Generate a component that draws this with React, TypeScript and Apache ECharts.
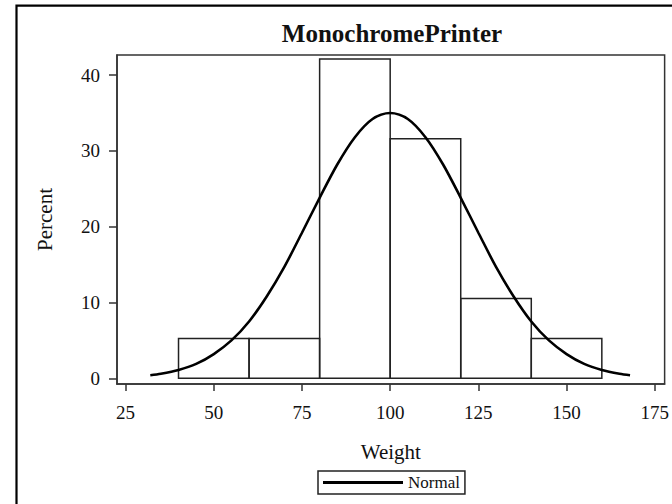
import React, { useEffect, useRef } from "react";
import * as echarts from "echarts";

const titleText = "MonochromePrinter";
const xTicks = [25, 50, 75, 100, 125, 150, 175];
const yTicks = [0, 10, 20, 30, 40];
const binStart = [40, 60, 80, 100, 120, 140];
const binEnd = [60, 80, 100, 120, 140, 160];
const binPercent = [5.26, 5.26, 42.11, 31.58, 10.53, 5.26];
const curveX = [32, 35, 40, 45, 50, 55, 60, 65, 70, 75, 80, 85, 90, 95, 100, 105, 110, 115, 120, 125, 130, 135, 140, 145, 150, 155, 160, 165, 168];
const curveY = [0.41, 0.6, 1.1, 1.9, 3.2, 5.0, 7.5, 10.8, 14.7, 19.2, 23.8, 28.2, 31.8, 34.2, 35.0, 34.2, 31.8, 28.2, 23.8, 19.2, 14.7, 10.8, 7.5, 5.0, 3.2, 1.9, 1.1, 0.6, 0.41];

const FONT = "'Liberation Serif', 'Times New Roman', serif";

export default function App() {
  const ref = useRef<HTMLDivElement>(null);
  useEffect(() => {
    if (!ref.current) return;
    const chart = echarts.init(ref.current, undefined, { renderer: "svg" });
    const axisColor = "#333";
    chart.setOption({
      animation: false,
      backgroundColor: "#fff",
      graphic: [
        {
          type: "rect",
          shape: { x: 16.5, y: 5.7, width: 720, height: 620 },
          style: { fill: "none", stroke: "#000", lineWidth: 2.2 },
          silent: true,
        },
        {
          type: "text",
          x: 392,
          y: 33,
          style: {
            text: titleText,
            font: `bold 25px ${FONT}`,
            fill: "#111",
            textAlign: "center",
            textVerticalAlign: "middle",
          },
        },
      ],
      grid: {
        left: 117,
        top: 55,
        right: 2,
        bottom: 120,
        show: true,
        borderColor: axisColor,
        borderWidth: 1.5,
        backgroundColor: "transparent",
      },
      legend: {
        data: [{ name: "Normal", icon: "rect" }],
        left: 318,
        top: 471,
        padding: [3, 5],
        itemWidth: 80,
        itemHeight: 3,
        itemGap: 4,
        borderColor: "#222",
        borderWidth: 1.5,
        textStyle: { fontFamily: FONT, fontSize: 17, color: "#111" },
      },
      xAxis: {
        type: "value",
        min: 22.56,
        max: 177.8,
        name: "Weight",
        nameLocation: "middle",
        nameGap: 57,
        nameTextStyle: { fontFamily: FONT, fontSize: 21, color: "#111" },
        axisLine: { show: true, onZero: false, lineStyle: { color: axisColor, width: 1.5 } },
        axisTick: { show: true, customValues: xTicks, length: 7, lineStyle: { color: axisColor, width: 1.5 } },
        axisLabel: { customValues: xTicks, margin: 19, fontFamily: FONT, fontSize: 19, color: "#111" },
        splitLine: { show: false },
      },
      yAxis: {
        type: "value",
        min: -0.75,
        max: 42.64,
        name: "Percent",
        nameLocation: "middle",
        nameGap: 62,
        nameTextStyle: { fontFamily: FONT, fontSize: 21, color: "#111" },
        axisLine: { show: true, onZero: false, lineStyle: { color: axisColor, width: 1.5 } },
        axisTick: { show: true, customValues: yTicks, length: 8, lineStyle: { color: axisColor, width: 1.5 } },
        axisLabel: { customValues: yTicks, margin: 17, fontFamily: FONT, fontSize: 19, color: "#111" },
        splitLine: { show: false },
      },
      series: [
        {
          type: "custom",
          name: "Bins",
          data: binStart.map((s, i) => [s, binEnd[i], binPercent[i]]),
          encode: { x: [0, 1], y: 2 },
          renderItem: (params: any, api: any) => {
            const p0 = api.coord([api.value(0), api.value(2)]);
            const p1 = api.coord([api.value(1), 0]);
            return {
              type: "rect",
              shape: { x: p0[0], y: p0[1], width: p1[0] - p0[0], height: p1[1] - p0[1] },
              style: { fill: "none", stroke: "#222", lineWidth: 1.5 },
            };
          },
          z: 1,
        },
        {
          type: "line",
          name: "Normal",
          data: curveX.map((x, i) => [x, curveY[i]]),
          smooth: 0.3,
          showSymbol: false,
          symbol: "none",
          lineStyle: { color: "#000", width: 2.6 },
          itemStyle: { color: "#000" },
          z: 3,
        },
      ],
    });
    return () => chart.dispose();
  }, []);
  return <div ref={ref} style={{ position: "fixed", left: 0, top: 0, width: 672, height: 504 }} />;
}
